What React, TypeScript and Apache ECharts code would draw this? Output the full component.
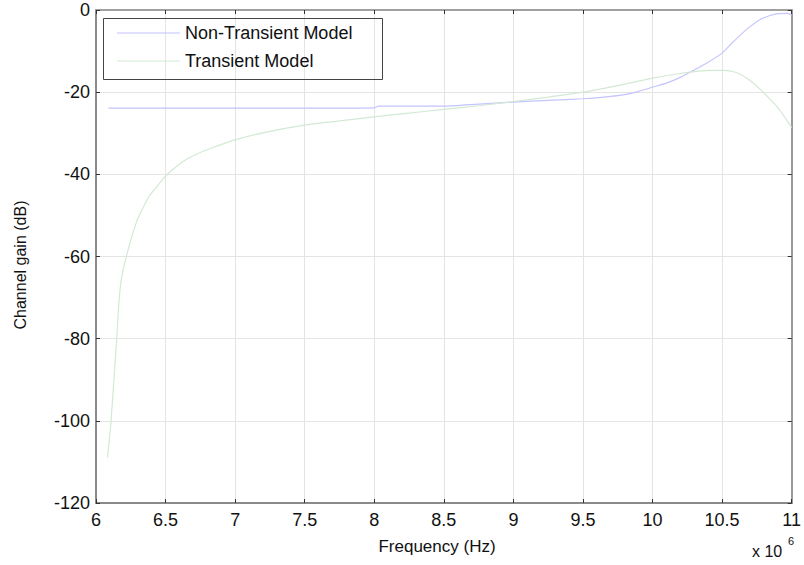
import React, { useEffect, useRef } from "react";
import * as echarts from "echarts";

// Frequency in units of 10^6 Hz, channel gain in dB
const freqNonTransient = [6.09, 6.5, 7, 7.5, 8.0, 8.03, 8.5, 8.75, 9, 9.25, 9.5, 9.65, 9.8, 9.9, 10, 10.1, 10.2, 10.3, 10.4, 10.5, 10.57, 10.64, 10.71, 10.78, 10.84, 10.9, 10.97, 11];
const gainNonTransient = [-23.9, -23.9, -23.9, -23.9, -23.8, -23.4, -23.4, -22.9, -22.4, -22.0, -21.6, -21.2, -20.6, -19.8, -18.8, -17.8, -16.4, -14.6, -12.7, -10.5, -8.1, -5.8, -3.8, -2.2, -1.4, -0.9, -0.8, -1.2];

const freqTransient = [6.083, 6.107, 6.13, 6.148, 6.162, 6.178, 6.2, 6.226, 6.25, 6.273, 6.3, 6.34, 6.38, 6.43, 6.49, 6.55, 6.62, 6.71, 6.83, 7, 7.24, 7.5, 7.75, 8, 8.25, 8.5, 8.75, 9, 9.25, 9.5, 9.75, 10, 10.15, 10.33, 10.42, 10.52, 10.59, 10.65, 10.71, 10.77, 10.83, 10.9, 11];
const gainTransient = [-109, -100.5, -89.5, -80.5, -72.5, -66.5, -62.5, -59, -56, -53.4, -50.8, -48, -45.4, -43.3, -40.8, -38.9, -37, -35.3, -33.6, -31.6, -29.6, -28, -27, -26, -25.1, -24.2, -23.3, -22.3, -21.2, -20, -18.4, -16.6, -15.7, -14.9, -14.7, -14.7, -15.1, -16.0, -17.4, -19.2, -21.2, -23.7, -28.6];

const seriesNames = ["Non-Transient Model", "Transient Model"];
const xLabel = "Frequency (Hz)";
const yLabel = "Channel gain (dB)";

const FONT = "'Liberation Sans', Arial, Helvetica, sans-serif";

export default function App() {
  const ref = useRef<HTMLDivElement>(null);

  useEffect(() => {
    if (!ref.current) return;
    const chart = echarts.init(ref.current, null, { renderer: "svg" });

    const pair = (xs: number[], ys: number[]) => xs.map((x, i) => [x, ys[i]]);

    const tickInside = { show: true, inside: true, length: 4, lineStyle: { color: "#333", width: 1 } };

    chart.setOption({
      animation: false,
      backgroundColor: "#fff",
      textStyle: { fontFamily: FONT },
      grid: { left: 96, right: 7, top: 10, bottom: 62, containLabel: false },
      xAxis: [
        {
          type: "value",
          min: 6,
          max: 11,
          interval: 0.5,
          axisLine: { show: true, onZero: false, lineStyle: { color: "#8a8a8a", width: 2 } },
          axisTick: tickInside,
          axisLabel: { color: "#111", fontSize: 18, fontFamily: FONT, margin: 8 },
          splitLine: { show: true, lineStyle: { color: "#e4e4e4", width: 1 } },
        },
        {
          type: "value",
          position: "top",
          min: 6,
          max: 11,
          interval: 0.5,
          axisLine: { show: true, onZero: false, lineStyle: { color: "#a0a0a0", width: 2 } },
          axisTick: tickInside,
          axisLabel: { show: false },
          splitLine: { show: false },
        },
      ],
      yAxis: [
        {
          type: "value",
          min: -120,
          max: 0,
          interval: 20,
          axisLine: { show: true, onZero: false, lineStyle: { color: "#8a8a8a", width: 2 } },
          axisTick: tickInside,
          axisLabel: { color: "#111", fontSize: 18, fontFamily: FONT, margin: 6 },
          splitLine: { show: true, lineStyle: { color: "#e4e4e4", width: 1 } },
        },
        {
          type: "value",
          position: "right",
          min: -120,
          max: 0,
          interval: 20,
          axisLine: { show: true, onZero: false, lineStyle: { color: "#9a9a9a", width: 2 } },
          axisTick: tickInside,
          axisLabel: { show: false },
          splitLine: { show: false },
        },
      ],
      legend: {
        orient: "vertical",
        left: 112,
        top: 19,
        icon: "rect",
        itemWidth: 63,
        itemHeight: 1.2,
        itemGap: 10,
        padding: 5,
        textStyle: { fontSize: 18, lineHeight: 18, color: "#111", fontFamily: FONT },
        data: seriesNames,
      },
      graphic: [
        {
          type: "rect",
          shape: { x: 103.5, y: 18.5, width: 279, height: 61 },
          style: { fill: "none", stroke: "#444", lineWidth: 1 },
          z: 10,
        },
        {
          type: "text",
          x: 437,
          y: 546,
          style: { text: xLabel, font: `17px ${FONT}`, fill: "#111", align: "center", verticalAlign: "middle" },
        },
        {
          type: "text",
          x: 20,
          y: 265,
          rotation: Math.PI / 2,
          style: { text: yLabel, font: `16px ${FONT}`, fill: "#111", align: "center", verticalAlign: "middle" },
        },
        {
          type: "text",
          x: 752,
          y: 551,
          style: { text: "x 10", font: `16px ${FONT}`, fill: "#111", align: "left", verticalAlign: "middle" },
        },
        {
          type: "text",
          x: 788,
          y: 541,
          style: { text: "6", font: `11px ${FONT}`, fill: "#111", align: "left", verticalAlign: "middle" },
        },
      ],
      series: [
        {
          name: seriesNames[0],
          type: "line",
          data: pair(freqNonTransient, gainNonTransient),
          symbol: "none",
          showSymbol: false,
          smooth: 0.2,
          lineStyle: { color: "#c4c4ff", width: 1.2 },
          itemStyle: { color: "#c4c4ff" },
        },
        {
          name: seriesNames[1],
          type: "line",
          data: pair(freqTransient, gainTransient),
          symbol: "none",
          showSymbol: false,
          smooth: 0.2,
          lineStyle: { color: "#d3e9d3", width: 1.2 },
          itemStyle: { color: "#d3e9d3" },
        },
      ],
    });

    return () => chart.dispose();
  }, []);

  return <div ref={ref} style={{ width: 804, height: 565, position: "absolute", left: 0, top: 0 }} />;
}
